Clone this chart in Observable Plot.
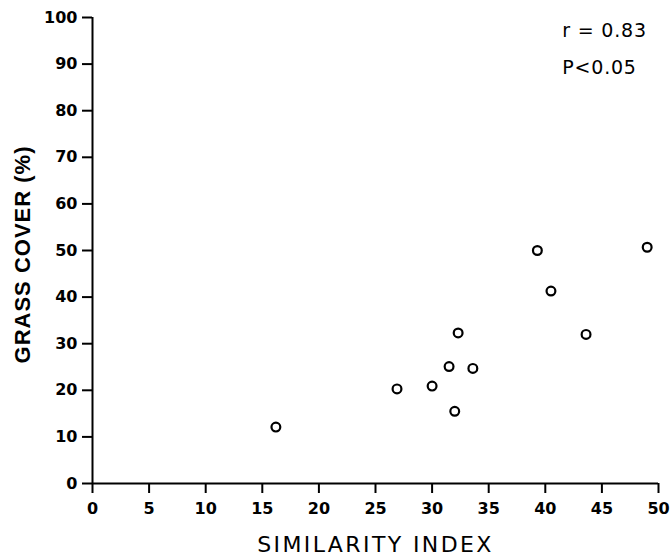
<!DOCTYPE html>
<html>
<head>
<meta charset="utf-8">
<script src="https://cdn.jsdelivr.net/npm/d3@7"></script>
<script src="https://cdn.jsdelivr.net/npm/@observablehq/plot@0.6"></script>
<style>
  html, body { margin: 0; padding: 0; background: #fff; }
</style>
</head>
<body>
<div id="chart"></div>
<script>
// Data
const similarityIndex = [16.2, 26.9, 30.0, 31.5, 32.3, 32.0, 33.6, 39.3, 40.5, 43.6, 49.0];
const grassCover      = [12.1, 20.3, 20.9, 25.1, 32.3, 15.5, 24.7, 50.0, 41.3, 32.0, 50.7];
const xTicks = [0, 5, 10, 15, 20, 25, 30, 35, 40, 45, 50];
const yTicks = [0, 10, 20, 30, 40, 50, 60, 70, 80, 90, 100];
const xTitle = "SIMILARITY INDEX";
const yTitle = "GRASS COVER (%)";
const statLabels = ["r = 0.83", "P<0.05"];
const statX = [41.5, 41.5];
const statY = [97.2, 89.2];

const points = similarityIndex.map((x, i) => ({x, y: grassCover[i]}));
const stats = statLabels.map((t, i) => ({t, x: statX[i], y: statY[i]}));

const chart = Plot.plot({
  width: 671,
  height: 557,
  marginLeft: 92,
  marginRight: 13,
  marginTop: 17,
  marginBottom: 74,
  style: {background: "#fff", color: "#000", fontFamily: "DejaVu Sans"},
  x: {domain: [0, 50]},
  y: {domain: [0, 100]},
  marks: [
    Plot.axisY({ticks: yTicks, tickSize: 10, tickPadding: 5, label: null,
      fontSize: 16, fontWeight: "bold", fontFamily: "DejaVu Sans", strokeWidth: 2}),
    Plot.axisX({ticks: xTicks, tickSize: 10, tickPadding: 9, label: null,
      fontSize: 16, fontWeight: "bold", fontFamily: "DejaVu Sans", strokeWidth: 2}),
    Plot.ruleX([0], {y1: 0, y2: 100, stroke: "#000", strokeWidth: 2}),
    Plot.ruleY([0], {x1: 0, x2: 50, stroke: "#000", strokeWidth: 2}),
    Plot.dot(points, {x: "x", y: "y", r: 4.4, stroke: "#000", strokeWidth: 2.2, fill: "none"}),
    Plot.text(stats, {x: "x", y: "y", text: "t", textAnchor: "start", fontSize: 19,
      fontFamily: "DejaVu Sans", fill: "#000"}),
    Plot.text([xTitle], {frameAnchor: "bottom", dy: 61, text: d => d, fontSize: 22,
      fontFamily: "DejaVu Sans", fill: "#000", lineAnchor: "middle", textAnchor: "middle"}),
    Plot.text([yTitle], {frameAnchor: "left", dx: -70, dy: 4, text: d => d, rotate: -90, fontSize: 22,
      fontWeight: "bold", fontFamily: "Liberation Sans", fill: "#000", lineAnchor: "middle", textAnchor: "middle"})
  ]
});
document.getElementById("chart").appendChild(chart);
// letter spacing for titles
const texts = chart.querySelectorAll("text");
texts.forEach(t => {
  if (t.textContent === xTitle) t.setAttribute("letter-spacing", "2.4");
  if (t.textContent === yTitle) t.setAttribute("letter-spacing", "1");
  if (statLabels.includes(t.textContent)) t.setAttribute("letter-spacing", "0.8");
});
</script>
</body>
</html>
